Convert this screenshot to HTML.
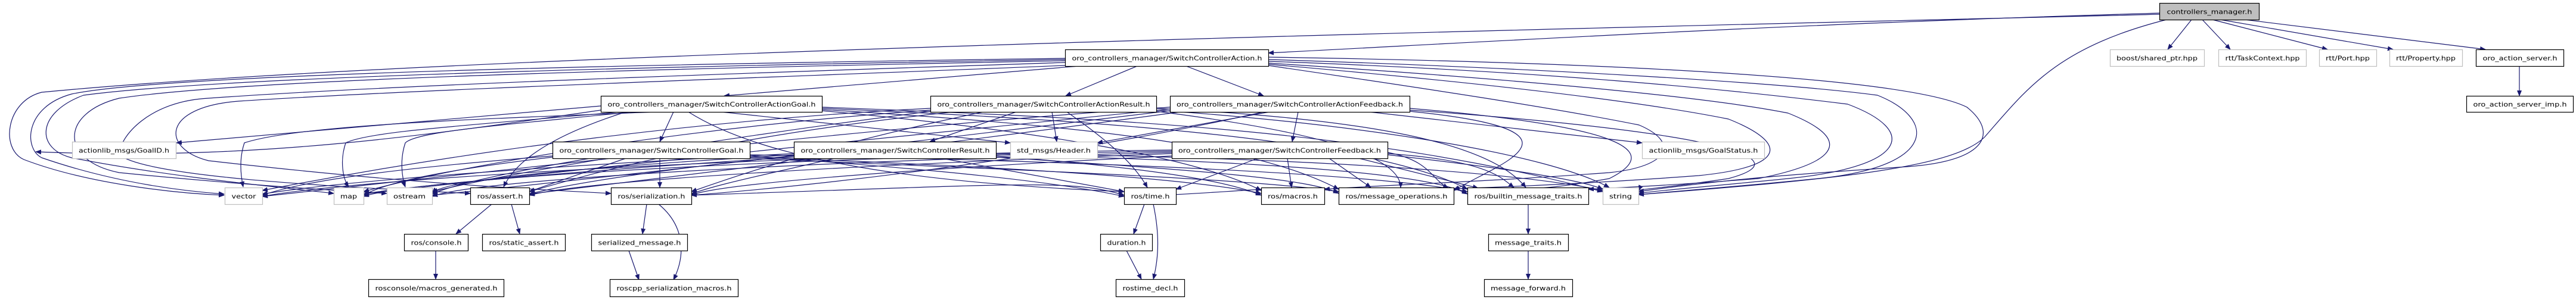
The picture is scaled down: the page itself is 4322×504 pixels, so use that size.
<!DOCTYPE html>
<html><head><meta charset="utf-8"><style>
html,body{margin:0;padding:0;background:#fff;width:4322px;height:504px;overflow:hidden}
svg{display:block}
text{font-family:"DejaVu Sans","Liberation Sans",sans-serif;font-size:10.5px;fill:#000}
.e{fill:none;stroke:#191970;stroke-width:1.2}
.n{fill:#fff;stroke:#000;stroke-width:1.2}
.x{fill:#fff;stroke:#bfbfbf;stroke-width:1.2}
</style></head><body>
<svg width="4322" height="504" viewBox="0 0 4322 504" xmlns="http://www.w3.org/2000/svg">
<defs><marker id="a" markerWidth="10" markerHeight="8" refX="9" refY="4" orient="auto" markerUnits="userSpaceOnUse"><path d="M0,0 L10,4 L0,8 z" fill="#191970"/></marker></defs>
<g class="e" marker-end="url(#a)">
<!-- controllers_manager -->
<path d="M3623,22 C3000,40 2500,70 2128,89"/>
<path d="M3635,33 C3450,80 3400,150 3330,230 C3280,280 3100,300 2749,327"/>
<path d="M3677,33 L3637,83"/>
<path d="M3695,33 L3742,83"/>
<path d="M3712,33 L3905,83"/>
<path d="M3725,33 L4015,83"/>
<path d="M3750,31 L4170,83"/>
<path d="M4227,111 L4227,161"/>
<path d="M3623,24 C2800,45 800,85 70,155 C10,170 0,250 40,268 C150,310 300,325 376,328"/>
<!-- Action left loops -->
<path d="M1787,98 C1300,105 300,120 120,158 C40,180 40,250 70,265 C200,310 320,322 376,326"/>
<path d="M1787,100 C1300,108 400,125 140,160 C60,190 60,250 120,265 C300,300 480,315 560,325"/>
<path d="M1787,102 C1300,112 450,128 200,165 C100,190 100,270 200,290 C400,310 560,320 649,325"/>
<path d="M1787,105 C1400,118 700,140 350,165 C250,170 200,230 200,260 C250,300 600,315 789,325"/>
<path d="M1787,110 C1300,130 700,150 400,170 C270,180 270,250 350,270 C700,310 900,318 1025,325"/>
<!-- Action children -->
<path d="M1810,111 C1600,130 1400,145 1215,161"/>
<path d="M1908,111 L1788,161"/>
<path d="M1990,111 L2120,161"/>
<!-- Action right loops -->
<path d="M2128,100 C2600,115 3000,140 3150,160 C3250,200 3250,280 3050,300 C2900,315 2800,322 2749,327"/>
<path d="M2128,103 C2600,120 2900,150 3100,175 C3220,220 3200,280 3000,300 C2850,315 2780,320 2749,325"/>
<path d="M2128,106 C2500,130 2850,160 3000,190 C3100,230 3100,270 2950,300 C2800,312 2700,316 2665,318"/>
<path d="M2128,108 C2500,140 2750,170 2900,200 C3000,240 3000,280 2850,295 C2650,310 2500,315 2439,317"/>
<path d="M2128,110 C2400,150 2600,180 2750,210 C2820,240 2800,280 2700,290 C2500,305 2300,312 2222,318"/>
<path d="M2128,96 C2700,105 3200,130 3300,180 C3350,220 3340,270 3200,280 C3050,290 2900,300 2749,322"/>
<!-- AGoal -->
<path d="M1008,178 L296,240"/>
<path d="M1100,188 C800,200 500,210 410,240 C400,270 405,300 408,314"/>
<path d="M1040,188 C800,210 620,220 580,240 C570,270 575,300 585,314"/>
<path d="M1060,188 C850,210 700,220 680,240 C670,270 675,300 680,314"/>
<path d="M1050,188 C950,220 870,260 845,314"/>
<path d="M1130,188 L1107,238"/>
<path d="M1210,188 L1695,240"/>
<path d="M1155,188 C1300,280 1600,310 1886,322"/>
<path d="M1379,182 C1800,200 2300,230 2462,318"/>
<path d="M1379,180 C1900,200 2300,220 2689,322"/>
<path d="M1379,184 C1800,210 2100,240 2246,318"/>
<path d="M1379,186 C1700,215 2000,260 2116,320"/>
<path d="M1008,185 C700,230 420,270 60,255"/>
<!-- AResult -->
<path d="M1705,188 L1560,238"/>
<path d="M1765,188 L1773,238"/>
<path d="M1790,188 C1850,230 1900,270 1925,315"/>
<path d="M1561,182 C1200,200 800,250 440,320"/>
<path d="M1561,185 C1200,210 800,270 610,322"/>
<path d="M1561,187 C1300,220 900,280 725,322"/>
<path d="M1600,188 C1200,230 1000,290 888,322"/>
<path d="M1650,188 C1400,240 1250,290 1160,322"/>
<path d="M1940,182 C2300,200 2500,240 2560,315"/>
<path d="M1940,185 C2300,210 2600,260 2700,315"/>
<path d="M1940,187 C2200,220 2350,260 2350,315"/>
<!-- AFeedback -->
<path d="M2178,188 L2168,238"/>
<path d="M2130,188 L1841,240"/>
<path d="M2297,188 L2755,240"/>
<path d="M2120,188 C1800,260 1400,310 1160,328"/>
<path d="M1963,180 C1500,210 900,280 440,330"/>
<path d="M1963,183 C1600,220 1000,280 610,326"/>
<path d="M1963,186 C1600,230 1100,290 725,328"/>
<path d="M1980,188 C1600,240 1100,300 888,326"/>
<path d="M2365,182 C2700,210 2800,250 2700,300 C2600,318 2560,318 2560,315"/>
<path d="M2365,185 C2800,215 3050,260 2900,300 C2800,315 2750,318 2749,320"/>
<path d="M2365,187 C2700,220 2500,280 2440,320"/>
<!-- Goal -->
<path d="M1107,266 L1107,315"/>
<path d="M1050,266 C980,290 920,310 888,322"/>
<path d="M927,262 C700,280 520,300 440,328"/>
<path d="M927,264 C750,285 650,305 610,328"/>
<path d="M990,266 C850,290 760,310 725,326"/>
<path d="M1258,262 C1500,280 1750,300 1886,330"/>
<path d="M1258,264 C1700,280 2000,300 2116,325"/>
<path d="M1258,266 C1700,285 2100,300 2246,322"/>
<path d="M1258,260 C1800,270 2300,290 2462,322"/>
<!-- Result -->
<path d="M1400,266 C1300,290 1200,310 1160,326"/>
<path d="M1332,262 C1100,285 950,310 888,326"/>
<path d="M1332,258 C1000,275 600,300 440,326"/>
<path d="M1332,260 C1000,280 750,300 725,324"/>
<path d="M1332,264 C1000,285 700,310 610,326"/>
<path d="M1580,266 L1886,322"/>
<path d="M1671,262 C1900,280 2050,300 2116,328"/>
<path d="M1671,264 C2000,285 2200,300 2246,325"/>
<path d="M1671,260 C2100,270 2400,290 2462,326"/>
<path d="M1671,258 C2200,265 2550,290 2689,320"/>
<!-- Feedback -->
<path d="M2110,266 L1973,318"/>
<path d="M2160,266 L2167,315"/>
<path d="M2230,266 L2300,315"/>
<path d="M2280,266 L2480,316"/>
<path d="M1966,262 C1500,285 1200,310 1160,328"/>
<path d="M1966,258 C1500,275 1000,300 888,328"/>
<path d="M1966,256 C1400,270 800,300 725,330"/>
<path d="M1966,254 C1300,265 700,300 610,330"/>
<path d="M1966,252 C1300,260 600,300 440,330"/>
<path d="M2328,260 C2500,280 2650,300 2689,318"/>
<path d="M2328,256 C2400,270 2400,300 2430,316"/>
<path d="M2328,258 C2500,270 2520,300 2540,315"/>
<!-- lower -->
<path d="M1945,328 C2000,326 2050,322 2116,318"/>
<path d="M1160,328 C1700,310 1800,300 1886,328"/>
<path d="M825,343 L765,393"/>
<path d="M858,343 L872,393"/>
<path d="M731,421 L731,469"/>
<path d="M1085,343 L1078,393"/>
<path d="M1105,343 C1150,380 1150,430 1130,470"/>
<path d="M1055,421 L1072,470"/>
<path d="M1920,343 L1902,393"/>
<path d="M1935,343 C1945,390 1945,430 1935,469"/>
<path d="M1890,421 L1915,469"/>
<path d="M2564,343 L2564,393"/>
<path d="M2564,421 L2564,469"/>
</g>
<!-- nodes -->
<g>
<rect x="3623.5" y="5.5" width="167" height="28" fill="#bfbfbf" stroke="#000" stroke-width="1.2"/>
<text x="3707" y="23.5" text-anchor="middle" textLength="143" lengthAdjust="spacingAndGlyphs">controllers_manager.h</text>

<rect class="n" x="1787.5" y="83.5" width="341" height="28"/>
<text x="1958" y="101.5" text-anchor="middle" textLength="319" lengthAdjust="spacingAndGlyphs">oro_controllers_manager/SwitchControllerAction.h</text>
<rect class="x" x="3540.5" y="83.5" width="158" height="28"/>
<text x="3619" y="101.5" text-anchor="middle" textLength="136" lengthAdjust="spacingAndGlyphs">boost/shared_ptr.hpp</text>
<rect class="x" x="3722.5" y="83.5" width="147" height="28"/>
<text x="3796" y="101.5" text-anchor="middle" textLength="125" lengthAdjust="spacingAndGlyphs">rtt/TaskContext.hpp</text>
<rect class="x" x="3891.5" y="83.5" width="96" height="28"/>
<text x="3939" y="101.5" text-anchor="middle" textLength="74" lengthAdjust="spacingAndGlyphs">rtt/Port.hpp</text>
<rect class="x" x="4009.5" y="83.5" width="122" height="28"/>
<text x="4070" y="101.5" text-anchor="middle" textLength="100" lengthAdjust="spacingAndGlyphs">rtt/Property.hpp</text>
<rect class="n" x="4154.5" y="83.5" width="147" height="28"/>
<text x="4228" y="101.5" text-anchor="middle" textLength="125" lengthAdjust="spacingAndGlyphs">oro_action_server.h</text>

<rect class="n" x="1008.5" y="161.5" width="371" height="27"/>
<text x="1194" y="179" text-anchor="middle" textLength="349" lengthAdjust="spacingAndGlyphs">oro_controllers_manager/SwitchControllerActionGoal.h</text>
<rect class="n" x="1561.5" y="161.5" width="379" height="27"/>
<text x="1751" y="179" text-anchor="middle" textLength="357" lengthAdjust="spacingAndGlyphs">oro_controllers_manager/SwitchControllerActionResult.h</text>
<rect class="n" x="1963.5" y="161.5" width="402" height="27"/>
<text x="2164" y="179" text-anchor="middle" textLength="380" lengthAdjust="spacingAndGlyphs">oro_controllers_manager/SwitchControllerActionFeedback.h</text>
<rect class="n" x="4138.5" y="161.5" width="179" height="27"/>
<text x="4228" y="179" text-anchor="middle" textLength="157" lengthAdjust="spacingAndGlyphs">oro_action_server_imp.h</text>

<rect class="x" x="121.5" y="238.5" width="174" height="28"/>
<text x="208" y="256.5" text-anchor="middle" textLength="152" lengthAdjust="spacingAndGlyphs">actionlib_msgs/GoalID.h</text>
<rect class="n" x="927.5" y="238.5" width="331" height="28"/>
<text x="1093" y="256.5" text-anchor="middle" textLength="309" lengthAdjust="spacingAndGlyphs">oro_controllers_manager/SwitchControllerGoal.h</text>
<rect class="n" x="1332.5" y="238.5" width="339" height="28"/>
<text x="1502" y="256.5" text-anchor="middle" textLength="317" lengthAdjust="spacingAndGlyphs">oro_controllers_manager/SwitchControllerResult.h</text>
<rect class="x" x="1695.5" y="238.5" width="146" height="28"/>
<text x="1768" y="256.5" text-anchor="middle" textLength="124" lengthAdjust="spacingAndGlyphs">std_msgs/Header.h</text>
<rect class="n" x="1966.5" y="238.5" width="362" height="28"/>
<text x="2147" y="256.5" text-anchor="middle" textLength="340" lengthAdjust="spacingAndGlyphs">oro_controllers_manager/SwitchControllerFeedback.h</text>
<rect class="x" x="2755.5" y="238.5" width="205" height="28"/>
<text x="2858" y="256.5" text-anchor="middle" textLength="183" lengthAdjust="spacingAndGlyphs">actionlib_msgs/GoalStatus.h</text>

<rect class="x" x="377.5" y="315.5" width="63" height="28"/>
<text x="409" y="333.5" text-anchor="middle" textLength="41" lengthAdjust="spacingAndGlyphs">vector</text>
<rect class="x" x="560.5" y="315.5" width="50" height="28"/>
<text x="585" y="333.5" text-anchor="middle" textLength="28" lengthAdjust="spacingAndGlyphs">map</text>
<rect class="x" x="649.5" y="315.5" width="76" height="28"/>
<text x="687" y="333.5" text-anchor="middle" textLength="54" lengthAdjust="spacingAndGlyphs">ostream</text>
<rect class="n" x="789.5" y="315.5" width="99" height="28"/>
<text x="839" y="333.5" text-anchor="middle" textLength="77" lengthAdjust="spacingAndGlyphs">ros/assert.h</text>
<rect class="n" x="1025.5" y="315.5" width="135" height="28"/>
<text x="1093" y="333.5" text-anchor="middle" textLength="113" lengthAdjust="spacingAndGlyphs">ros/serialization.h</text>
<rect class="n" x="1886.5" y="315.5" width="87" height="28"/>
<text x="1930" y="333.5" text-anchor="middle" textLength="65" lengthAdjust="spacingAndGlyphs">ros/time.h</text>
<rect class="n" x="2116.5" y="315.5" width="106" height="28"/>
<text x="2169" y="333.5" text-anchor="middle" textLength="84" lengthAdjust="spacingAndGlyphs">ros/macros.h</text>
<rect class="n" x="2246.5" y="315.5" width="193" height="28"/>
<text x="2343" y="333.5" text-anchor="middle" textLength="171" lengthAdjust="spacingAndGlyphs">ros/message_operations.h</text>
<rect class="n" x="2462.5" y="315.5" width="203" height="28"/>
<text x="2564" y="333.5" text-anchor="middle" textLength="181" lengthAdjust="spacingAndGlyphs">ros/builtin_message_traits.h</text>
<rect class="x" x="2689.5" y="315.5" width="60" height="28"/>
<text x="2719" y="333.5" text-anchor="middle" textLength="38" lengthAdjust="spacingAndGlyphs">string</text>

<rect class="n" x="678.5" y="393.5" width="107" height="28"/>
<text x="732" y="411.5" text-anchor="middle" textLength="85" lengthAdjust="spacingAndGlyphs">ros/console.h</text>
<rect class="n" x="809.5" y="393.5" width="139" height="28"/>
<text x="879" y="411.5" text-anchor="middle" textLength="117" lengthAdjust="spacingAndGlyphs">ros/static_assert.h</text>
<rect class="n" x="992.5" y="393.5" width="161" height="28"/>
<text x="1073" y="411.5" text-anchor="middle" textLength="139" lengthAdjust="spacingAndGlyphs">serialized_message.h</text>
<rect class="n" x="1846.5" y="393.5" width="87" height="28"/>
<text x="1890" y="411.5" text-anchor="middle" textLength="65" lengthAdjust="spacingAndGlyphs">duration.h</text>
<rect class="n" x="2497.5" y="393.5" width="134" height="28"/>
<text x="2564" y="411.5" text-anchor="middle" textLength="112" lengthAdjust="spacingAndGlyphs">message_traits.h</text>

<rect class="n" x="618.5" y="469.5" width="227" height="29"/>
<text x="732" y="488" text-anchor="middle" textLength="205" lengthAdjust="spacingAndGlyphs">rosconsole/macros_generated.h</text>
<rect class="n" x="1023.5" y="469.5" width="215" height="29"/>
<text x="1131" y="488" text-anchor="middle" textLength="193" lengthAdjust="spacingAndGlyphs">roscpp_serialization_macros.h</text>
<rect class="n" x="1872.5" y="469.5" width="115" height="29"/>
<text x="1930" y="488" text-anchor="middle" textLength="93" lengthAdjust="spacingAndGlyphs">rostime_decl.h</text>
<rect class="n" x="2490.5" y="469.5" width="148" height="29"/>
<text x="2564" y="488" text-anchor="middle" textLength="126" lengthAdjust="spacingAndGlyphs">message_forward.h</text>
</g>
</svg>
</body></html>
